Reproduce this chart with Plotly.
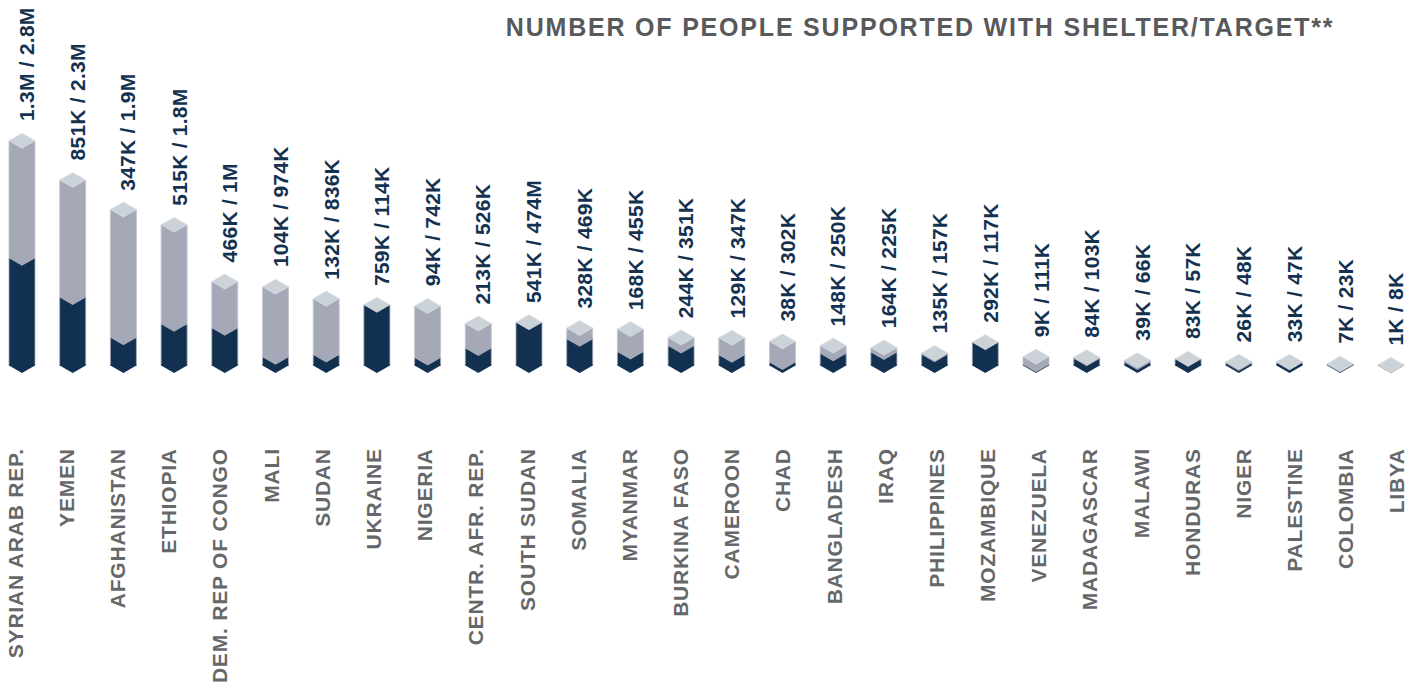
import plotly.graph_objects as go

countries = ["SYRIAN ARAB REP.", "YEMEN", "AFGHANISTAN", "ETHIOPIA", "DEM. REP OF CONGO", "MALI", "SUDAN",
             "UKRAINE", "NIGERIA", "CENTR. AFR. REP.", "SOUTH SUDAN", "SOMALIA", "MYANMAR", "BURKINA FASO",
             "CAMEROON", "CHAD", "BANGLADESH", "IRAQ", "PHILIPPINES", "MOZAMBIQUE", "VENEZUELA", "MADAGASCAR",
             "MALAWI", "HONDURAS", "NIGER", "PALESTINE", "COLOMBIA", "LIBYA"]
# thousands of people
supported = [1340, 851, 347, 515, 466, 104, 132, 759, 94, 213, 541, 328, 168, 244,
             129, 38, 148, 164, 135, 292, 9, 84, 39, 83, 26, 33, 7, 1]
target = [2810, 2320, 1950, 1760, 1050, 985, 836, 114, 745, 526, 474, 469, 455, 351,
          347, 302, 250, 225, 157, 117, 111, 103, 66, 57, 48, 47, 23, 8]
value_labels = ["1.3M / 2.8M", "851K / 2.3M", "347K / 1.9M", "515K / 1.8M", "466K / 1M", "104K / 974K",
                "132K / 836K", "759K / 114K", "94K / 742K", "213K / 526K", "541K / 474M", "328K / 469K",
                "168K / 455K", "244K / 351K", "129K / 347K", "38K / 302K", "148K / 250K", "164K / 225K",
                "135K / 157K", "292K / 117K", "9K / 111K", "84K / 103K", "39K / 66K", "83K / 57K",
                "26K / 48K", "33K / 47K", "7K / 23K", "1K / 8K"]
title_text = "NUMBER OF PEOPLE SUPPORTED WITH SHELTER/TARGET**"

DARK, GREY, CAP = "#12304f", "#a4a8b7", "#ccd3d8"
EDGE = "#c3c7d3"
HALF_W = 0.256      # half bar width, category units
DEPTH = 94          # half height of the isometric diamond, value units
SEAM = 12           # overlap that hides antialiasing seams, value units
PX_PER_CAT = 50.7
PX_PER_VAL = 0.08
TICK_STEP = 51.17 / PX_PER_CAT   # the country labels run on a slightly wider pitch than the bars
TICK_START = -6 / PX_PER_CAT

xs = list(range(len(countries)))
tops = [max(s, t) for s, t in zip(supported, target)]


def polys(items):
    px, py = [], []
    for xv, yv in items:
        px += xv + [None]
        py += yv + [None]
    return px, py


tip_x, tip_y = polys(
    ([i - HALF_W, i, i + HALF_W, i + HALF_W, i - HALF_W, i - HALF_W],
     [0, -DEPTH, 0, min(SEAM, h), min(SEAM, h), 0])
    for i, h in zip(xs, tops))
notch_x, notch_y = polys(
    ([i - HALF_W, i, i + HALF_W, i + HALF_W, i - HALF_W, i - HALF_W],
     [s, s - DEPTH, s, min(s + SEAM, t), min(s + SEAM, t), s])
    for i, s, t in zip(xs, supported, target) if t > s)
cap_x, cap_y = polys(
    ([i - HALF_W, i, i + HALF_W, i, i - HALF_W], [h, h + DEPTH, h, h - DEPTH, h])
    for i, h in zip(xs, tops))

fig = go.Figure()
fig.add_bar(x=xs, y=tops, width=2 * HALF_W, marker=dict(color=GREY, line=dict(color=EDGE, width=1)), name="Target")
fig.add_bar(x=xs, y=supported, width=2 * HALF_W, marker=dict(color=DARK, line=dict(color=EDGE, width=0.6)), name="Supported")
for px, py, col, lw in [(tip_x, tip_y, DARK, 0), (notch_x, notch_y, GREY, 0), (cap_x, cap_y, CAP, 0.7)]:
    fig.add_scatter(x=px, y=py, mode="lines", fill="toself", fillcolor=col,
                    line=dict(width=lw, color="#dde1e7"), hoverinfo="skip")

for i, h, lab in zip(xs, tops, value_labels):
    fig.add_annotation(x=i, y=h + DEPTH, text=lab, textangle=-90, showarrow=False, xanchor="center", yanchor="bottom",
                       xshift=5, yshift=11, font=dict(family="Liberation Sans", size=21, color="#14324f", weight="bold"))
fig.add_annotation(xref="paper", yref="paper", x=919.5 / 1405, y=1 - 27 / 443, text=title_text, showarrow=False,
                   xanchor="center", yanchor="middle",
                   font=dict(family="Liberation Sans", size=25, color="#58595b", weight="bold"))

fig.update_layout(
    width=1405, height=684, margin=dict(l=0, r=0, t=0, b=241, autoexpand=False), showlegend=False, barmode="overlay",
    plot_bgcolor="white", paper_bgcolor="white",
    xaxis=dict(range=[-22 / PX_PER_CAT, (1405 - 22) / PX_PER_CAT], tickmode="array",
               tickvals=[TICK_START + TICK_STEP * i for i in xs], ticktext=countries, tickangle=-90, ticklen=0,
               ticklabeloverflow="allow", automargin=False, showgrid=False, zeroline=False, showline=False,
               tickfont=dict(family="Liberation Sans", size=21, color="#666769", weight="bold")),
    yaxis=dict(range=[(365.5 - 443) / PX_PER_VAL, 365.5 / PX_PER_VAL], visible=False),
)
page_css = """
var s = document.createElement('style');
s.textContent = 'body{margin:0} .xtick text{letter-spacing:.8px} .annotation text{letter-spacing:.25px}'
  + ' .annotation[data-index="28"] text{letter-spacing:1.8px}';
document.head.appendChild(s);
"""
fig.write_html("out.html", post_script=page_css, config=dict(displayModeBar=False))
